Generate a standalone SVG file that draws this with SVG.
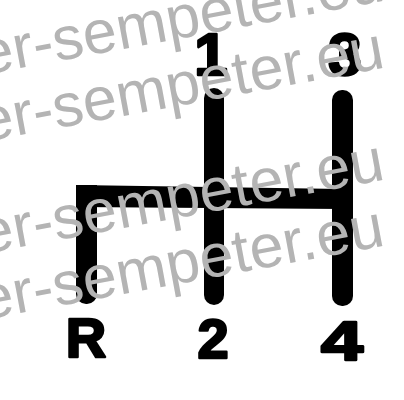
<svg xmlns="http://www.w3.org/2000/svg" width="404" height="400" viewBox="0 0 404 400">
<style>
.lbl{font-family:"Liberation Sans",Arial,sans-serif;font-weight:bold;font-size:56px;fill:#000;stroke:#000;stroke-width:2.5;stroke-linejoin:round;text-anchor:middle}
.top{font-size:60px}
.bar{fill:#000}
.wm{font-family:"Liberation Sans",Arial,sans-serif;font-size:61px;fill:#b4b4b4}
</style>
<rect width="404" height="400" fill="#fff"/>
<g id="connectors">
<rect class="bar" x="76" y="185" width="21" height="119" rx="10" ry="10"/>
<rect class="bar" x="76" y="185" width="21" height="30"/>
<polygon class="bar" points="76,185 343,189 343,209 76,207"/>
<rect class="bar" x="204" y="88" width="20" height="217" rx="10" ry="10"/>
<rect class="bar" x="332" y="90" width="21" height="216" rx="10" ry="10"/>
</g>
<g id="gear1"><text class="lbl top" x="211" y="75">1</text></g>
<g id="gear3"><text class="lbl top" x="345" y="75">3</text></g>
<g id="gearR"><text class="lbl" x="86" y="357">R</text></g>
<g id="gear2"><text class="lbl" x="213" y="358">2</text></g>
<g id="gear4"><text class="lbl" transform="translate(342,360) scale(1.35,1)">4</text></g>
<g id="watermark">
<text class="wm" transform="translate(-17,75) rotate(-10.5)">er-sempeter.eu</text>
<text class="wm" transform="translate(-17,142) rotate(-10.5)">er-sempeter.eu</text>
<text class="wm" transform="translate(-17,254) rotate(-10.5)">er-sempeter.eu</text>
<text class="wm" transform="translate(-17,320) rotate(-10.5)">er-sempeter.eu</text>
</g>
</svg>
